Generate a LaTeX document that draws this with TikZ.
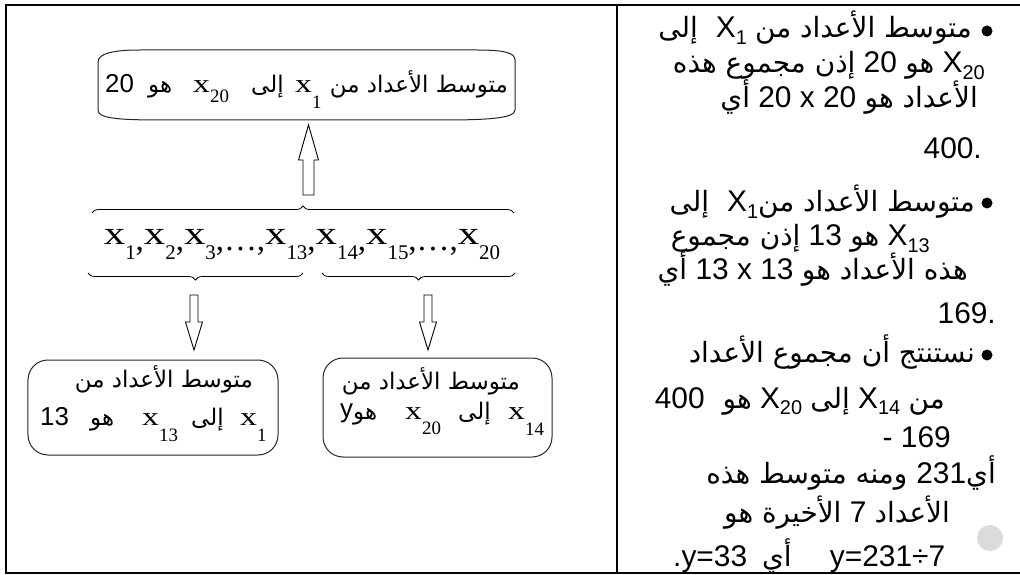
\documentclass[tikz,border=0pt]{standalone}
\usepackage{fontspec}
\usepackage{graphicx}
\usetikzlibrary{decorations.pathreplacing}
\setmainfont{Liberation Sans}
\newfontfamily\arf[Script=Arabic]{DejaVu Sans}
\newfontfamily\lsans{Liberation Sans}
\newfontfamily\lserif{Liberation Serif}
\newfontfamily\lserifw[FakeStretch=1.3]{Liberation Serif}
\TeXXeTstate=1
% Arabic, left diagram / right column
\newcommand\ARL[1]{{\arf\fontsize{23}{28}\selectfont\beginR #1\endR}}
\newcommand\ARR[1]{{\arf\fontsize{28}{32}\selectfont\beginR #1\endR}}
\newcommand\NUMB[1]{{\lsans #1}}
\newcommand\RCX[1]{{\lsans X\raisebox{-0.22em}{\fontsize{20}{20}\selectfont #1}}}
\newcommand\BOXX[2][16bp]{{\lserifw\fontsize{26}{30}\selectfont x\raisebox{-#1}{\lserif\fontsize{19}{19}\selectfont #2}}}
\newcommand\SEQX[1]{{\lserifw\fontsize{33}{36}\selectfont x\raisebox{-15bp}{\lserif\fontsize{21}{21}\selectfont #1}}}
\newcommand\SEQC{\raisebox{-6bp}{\lserif\fontsize{33}{36}\selectfont ,}}
\newcommand\SEQD{\raisebox{-6bp}{\lserif\fontsize{33}{36}\selectfont\ldots}}
\begin{document}
\begin{tikzpicture}[x=1bp,y=-1bp,
  frame/.style={line width=2bp},
  shp/.style={line width=1bp, draw=black!85},
  blk/.style={line width=0.9bp, draw=black, fill=white},
  brc/.style={line width=0.8bp, decorate, decoration={brace, amplitude=7bp}},
  lw/.style={inner sep=0, anchor=base west, font=\fontsize{26}{30}\selectfont},
  le/.style={inner sep=0, anchor=base east, font=\fontsize{26}{30}\selectfont},
  rc/.style={anchor=base east, inner sep=0, font=\fontsize{30}{34}\selectfont},
  rcw/.style={anchor=base west, inner sep=0, font=\fontsize{30}{34}\selectfont},
  dot/.style={circle, fill=black, inner sep=0, minimum size=11bp}]
\useasboundingbox (0,0) rectangle (1020,575);
\fill[white] (0,0) rectangle (1020,575);
% table frame
\draw[frame] (1020,5) -- (6,5) -- (6,573) -- (1020,573);
\draw[frame] (617,5) -- (617,573);

% ---------- left cell ----------
% top box
\draw[shp] (140,50) -- (477,50) .. controls (505,50) and (515,53) .. (515,60)
  -- (515,110) .. controls (515,118) and (490,120) .. (443,120)
  -- (162,120) .. controls (115,120) and (98,118) .. (98,110)
  -- (98,62) .. controls (98,53) and (115,50) .. (140,50) -- cycle;
\node[lw] (t1) at (105,93) {\NUMB{20}};
\node[lw] (t2) at (148,93) {\ARL{هو}};
\node[lw] (t3) at (193,93) {\BOXX[10bp]{20}};
\node[lw] (t4) at (251,93) {\ARL{إلى}};
\node[lw] (t5) at (295,93) {\BOXX{1}};
\node[le] (t6) at (508,93) {\ARL{متوسط الأعداد من}};

% up block arrow
\draw[blk] (308.5,125) -- (318.5,160) -- (314,160) -- (314,195) -- (303,195) -- (303,160) -- (298.5,160) -- cycle;

% braces and sequence
\draw[brc] (92,213) -- (514,213);
\node[inner sep=0, anchor=base] (seq) at (302,245) {\SEQX{1}\SEQC\SEQX{2}\SEQC\SEQX{3}\SEQC\SEQD\SEQC\SEQX{13}\SEQC\SEQX{14}\SEQC\SEQX{15}\SEQC\SEQD\SEQC\SEQX{20}};
\draw[brc] (303,273) -- (88,273);
\draw[brc] (515,273) -- (322,273);

% down block arrows
\draw[blk] (190,295) -- (198,295) -- (198,322) -- (202.5,322) -- (194,350) -- (185.5,322) -- (190,322) -- cycle;
\draw[blk] (424,295) -- (432,295) -- (432,322) -- (436.5,322) -- (428,350) -- (419.5,322) -- (424,322) -- cycle;

% bottom boxes
\node[shp, draw, rounded corners=20bp, minimum width=250bp, minimum height=95bp, inner sep=0] (lbox) at (153,407.5) {};
\node[shp, draw, rounded corners=20bp, minimum width=229bp, minimum height=99bp, inner sep=0] (rbox) at (437.5,407.5) {};
\node[le] (lb1) at (253,387) {\ARL{متوسط الأعداد من}};
\node[lw] (lb2a) at (40,425) {\NUMB{13}};
\node[lw] (lb2b) at (90,425) {\ARL{هو}};
\node[lw] (lb2c) at (142,425) {\BOXX{13}};
\node[lw] (lb2d) at (191,425) {\ARL{إلى}};
\node[lw] (lb2e) at (240,425) {\BOXX{1}};
\node[le] (rb1) at (520,389) {\ARL{متوسط الأعداد من}};
\node[lw] (rb2a) at (340,417) {\NUMB{y}};
\node[lw] (rb2b) at (353,419) {\ARL{هو}};
\node[lw] (rb2c) at (405,419) {\BOXX[15bp]{20}};
\node[lw] (rb2d) at (458,419) {\ARL{إلى}};
\node[lw] (rb2e) at (508,419) {\BOXX{14}};

% ---------- right cell (right-to-left lines, built left to right) ----------
\node[dot] (d1) at (987,31) {};
\node[dot] (d2) at (987,203) {};
\node[dot] (d3) at (987,355) {};

\node[rc] (r1) at (972,38) {\ARR{إلى}\hspace{0.6em}\RCX{1} \ARR{متوسط الأعداد من}};
\node[rc] (r2) at (985,73) {\ARR{إذن مجموع هذه} \NUMB{20} \ARR{هو} \RCX{20}};
\node[rc] (r3) at (978,108) {\ARR{أي} \NUMB{20 x 20} \ARR{الأعداد هو}};
\node[rc] (r4) at (982,159) {\NUMB{400.}};
\node[rc] (r5) at (975,212) {\ARR{إلى}\hspace{0.6em}\RCX{1}\ARR{متوسط الأعداد من}};
\node[rc] (r6) at (930,246) {\ARR{إذن مجموع} \NUMB{13} \ARR{هو} \RCX{13}};
\node[rc] (r7) at (968,280) {\ARR{أي} \NUMB{13 x 13} \ARR{هذه الأعداد هو}};
\node[rc] (r8) at (996,323) {\NUMB{169.}};
\node[rc] (r9) at (975,362) {\ARR{نستنتج أن مجموع الأعداد}};
\node[rc] (r10) at (945,408) {\NUMB{400}\hspace{0.6em}\ARR{هو} \RCX{20} \ARR{إلى} \RCX{14} \ARR{من}};
\node[rc] (r11) at (951,447) {\NUMB{- 169}};
\node[rc] (r12) at (996,483) {\ARR{ومنه متوسط هذه}\hspace{0.3em}\NUMB{231}\ARR{أي}};
\node[rc] (r13) at (950,522) {\ARR{الأخيرة هو} \NUMB{7} \ARR{الأعداد}};
\node[rcw] (r14) at (673,566) {\hbox to 272bp{\NUMB{.y=33}\hspace{0.5em}\ARR{أي}\hfill\NUMB{y=231÷7}}};

% decorative circle
\fill[gray!28] (990,538) circle[radius=13bp];
\end{tikzpicture}
\end{document}
